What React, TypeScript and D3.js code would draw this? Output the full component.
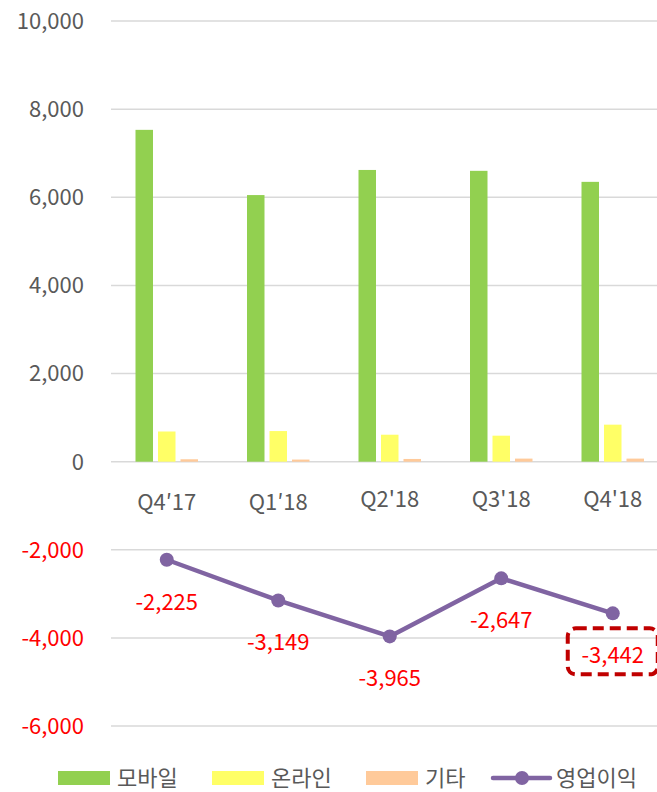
import React from "react";
import * as d3 from "d3";

const categories = ["Q4\u203217", "Q1\u203218", "Q2'18", "Q3'18", "Q4'18"];
const mobile = [7530, 6050, 6620, 6600, 6350];
const online = [685, 695, 612, 590, 840];
const other = [55, 48, 62, 70, 70];
const opProfit = [-2225, -3149, -3965, -2647, -3442];
const yTicks = [10000, 8000, 6000, 4000, 2000, 0, -2000, -4000, -6000];
const seriesNames = ["모바일", "온라인", "기타", "영업이익"];
const highlightIndex = 4;

const W = 657;
const H = 792;
const FONT = "'Noto Sans CJK KR', 'Noto Sans', sans-serif";
const GRAY = "#595959";
const COLORS = ["#92D050", "#FFFF66", "#FFCA9A", "#8064A2"];

const fmt0 = d3.format(",");
const fmt = (v: number) => fmt0(v).replace("\u2212", "-");

export default function App() {
  const x = d3.scaleBand<string>().domain(categories).range([111, 668.5]);
  const y = d3.scaleLinear().domain([-6000, 10000]).range([726.1, 21]);
  const bw = 17.5;
  const offs = [-22.5, 0, 22.5];
  const barSeries = [mobile, online, other];
  const cx = (i: number) => (x(categories[i]) as number) + x.bandwidth() / 2;

  const line = d3
    .line<number>()
    .x((_, i) => cx(i))
    .y((d) => y(d));

  const hx = cx(highlightIndex);
  const hy = y(opProfit[highlightIndex]) + 38;

  const legendItems = [
    { x: 58, name: seriesNames[0], color: COLORS[0], type: "rect" },
    { x: 212, name: seriesNames[1], color: COLORS[1], type: "rect" },
    { x: 366, name: seriesNames[2], color: COLORS[2], type: "rect" },
    { x: 493, name: seriesNames[3], color: COLORS[3], type: "line" },
  ];

  return (
    <svg
      width={W}
      height={H}
      style={{ position: "absolute", left: 0, top: 0, background: "#fff" }}
      fontFamily={FONT}
    >
      {yTicks.map((t) => (
        <g key={t}>
          <line x1={111} x2={W} y1={y(t)} y2={y(t)} stroke="#D9D9D9" strokeWidth={1.5} />
          <text
            x={84}
            y={y(t)}
            dy="0.36em"
            textAnchor="end"
            fontSize={22}
            fill={t < 0 ? "#FF0000" : GRAY}
          >
            {fmt(t)}
          </text>
        </g>
      ))}
      {barSeries.map((s, si) =>
        s.map((v, i) => (
          <rect
            key={si + "-" + i}
            x={cx(i) + offs[si] - bw / 2}
            y={y(v)}
            width={bw}
            height={y(0) - y(v)}
            fill={COLORS[si]}
          />
        ))
      )}
      {categories.map((c, i) => (
        <text key={c} x={cx(i)} y={i < 2 ? 510 : 507} textAnchor="middle" fontSize={22} fill={GRAY}>
          {c}
        </text>
      ))}
      <path d={line(opProfit) || ""} fill="none" stroke={COLORS[3]} strokeWidth={4.5} strokeLinejoin="round" />
      {opProfit.map((v, i) => (
        <circle key={i} cx={cx(i)} cy={y(v)} r={7} fill={COLORS[3]} />
      ))}
      {opProfit.map((v, i) => (
        <text
          key={"l" + i}
          x={cx(i)}
          y={y(v) + 42}
          dy="0.36em"
          textAnchor="middle"
          fontSize={22}
          fill="#FF0000"
        >
          {fmt(v)}
        </text>
      ))}
      <rect
        x={hx - 45}
        y={hy - 23}
        width={90}
        height={46}
        rx={8}
        ry={8}
        fill="none"
        stroke="#C00000"
        strokeWidth={4}
        strokeDasharray="11 6"
      />
      {legendItems.map((it) => (
        <g key={it.name}>
          {it.type === "rect" ? (
            <rect x={it.x} y={771} width={52} height={14} fill={it.color} />
          ) : (
            <g>
              <line x1={it.x} x2={it.x + 57} y1={778} y2={778} stroke={it.color} strokeWidth={4.5} strokeLinecap="round" />
              <circle cx={it.x + 29} cy={778} r={7} fill={it.color} />
            </g>
          )}
          <text
            x={it.type === "rect" ? it.x + 59 : it.x + 63}
            y={778}
            dy="0.36em"
            fontSize={22}
            fill={GRAY}
          >
            {it.name}
          </text>
        </g>
      ))}
    </svg>
  );
}
